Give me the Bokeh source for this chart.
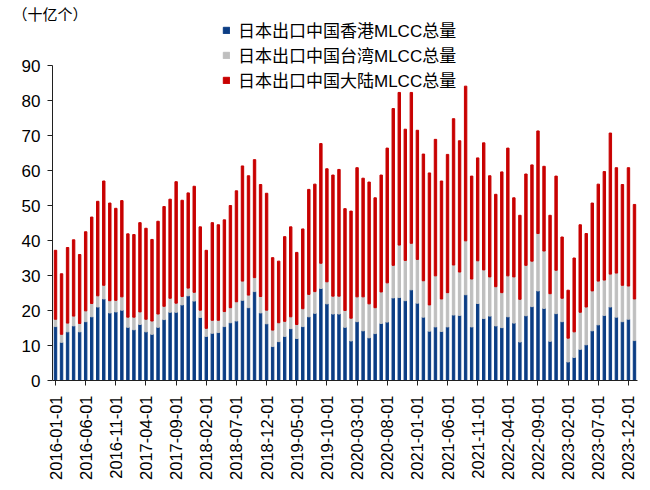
import math
import pandas as pd
from bokeh.plotting import figure
from bokeh.models import ColumnDataSource, Range1d, FixedTicker, Legend, LegendItem
from bokeh.embed import file_html
from bokeh.resources import INLINE

# ---- data (十亿个) ----
months = pd.date_range("2016-01-01", periods=97, freq="MS").strftime("%Y-%m-%d").tolist()

hk = [15.4, 10.9, 13.9, 15.6, 13.9, 16.8, 18.2, 21.0, 23.3, 19.3, 19.6, 20.1,
      15.2, 14.5, 16.0, 13.9, 13.2, 15.2, 17.4, 19.5, 19.5, 21.6, 24.2, 22.7,
      18.0, 12.6, 13.5, 13.7, 15.4, 16.5, 17.0, 22.9, 20.8, 25.4, 19.3, 16.2,
      9.7, 11.1, 12.6, 14.8, 12.0, 15.4, 18.2, 19.2, 26.3, 21.9, 19.0, 19.0,
      15.2, 11.3, 16.8, 14.2, 12.2, 13.4, 16.3, 16.7, 23.6, 23.7, 22.8, 25.9,
      22.1, 18.1, 14.1, 15.3, 14.0, 15.3, 18.7, 18.6, 24.5, 15.3, 22.0, 17.7,
      18.4, 15.6, 15.1, 18.2, 16.4, 11.0, 18.5, 21.1, 25.6, 20.6, 11.2, 19.1,
      16.8, 5.3, 6.6, 8.9, 10.2, 14.2, 15.9, 18.6, 21.0, 18.1, 16.8, 17.5,
      11.4]

tw = [2.1, 2.3, 2.5, 2.8, 2.4, 3.1, 3.8, 3.2, 3.9, 3.5, 3.3, 3.8,
      2.9, 3.6, 3.6, 3.6, 3.8, 3.8, 3.8, 4.0, 2.6, 2.4, 2.2, 2.5,
      2.1, 2.3, 3.7, 3.5, 4.3, 4.3, 5.5, 5.5, 3.6, 4.0, 4.7, 3.9,
      4.7, 5.4, 4.3, 3.4, 4.0, 5.1, 6.4, 6.2, 7.2, 6.3, 5.1, 5.1,
      4.8, 6.5, 7.1, 9.7, 9.7, 7.4, 9.0, 11.2, 9.3, 15.0, 11.5, 13.3,
      12.5, 10.4, 7.5, 14.6, 9.3, 9.8, 14.3, 12.4, 15.4, 13.7, 12.2, 13.9,
      11.2, 11.2, 10.0, 11.7, 13.2, 12.2, 14.4, 13.0, 16.4, 16.4, 13.6, 12.4,
      6.7, 6.8, 7.3, 10.6, 10.8, 11.4, 12.5, 10.1, 9.4, 12.6, 10.4, 9.5,
      11.9]

cn = [19.7, 17.3, 21.6, 21.8, 19.7, 22.6, 24.7, 27.0, 29.8, 27.9, 26.3, 27.5,
      23.8, 23.6, 25.5, 26.0, 23.3, 26.5, 28.5, 28.3, 34.7, 27.5, 27.2, 30.3,
      23.8, 22.3, 27.9, 27.3, 26.2, 29.2, 31.7, 32.9, 34.1, 33.7, 32.0, 33.4,
      20.7, 17.6, 24.2, 25.7, 20.6, 22.8, 30.0, 30.7, 34.2, 32.3, 34.6, 36.2,
      29.1, 30.6, 36.9, 33.9, 34.8, 31.4, 33.4, 38.5, 44.8, 43.6, 37.5, 43.1,
      36.9, 36.2, 37.7, 39.0, 33.7, 39.5, 41.8, 37.5, 44.2, 29.4, 29.4, 36.3,
      28.9, 26.4, 34.5, 36.5, 22.6, 24.0, 26.1, 27.5, 29.3, 24.2, 22.4, 26.9,
      17.5, 13.7, 21.1, 25.0, 21.0, 25.1, 27.7, 31.0, 40.3, 30.1, 28.8, 33.8,
      27.0]

tick_labels = ["2016-01-01", "2016-06-01", "2016-11-01", "2017-04-01", "2017-09-01",
               "2018-02-01", "2018-07-01", "2018-12-01", "2019-05-01", "2019-10-01",
               "2020-03-01", "2020-08-01", "2021-01-01", "2021-06-01", "2021-11-01",
               "2022-04-01", "2022-09-01", "2023-02-01", "2023-07-01", "2023-12-01"]
y_ticks = [0, 10, 20, 30, 40, 50, 60, 70, 80, 90]
y_max = 90

series_names = ["日本出口中国香港MLCC总量", "日本出口中国台湾MLCC总量", "日本出口中国大陆MLCC总量"]
unit_text = "（十亿个）"
colors = ["#0B3D84", "#BFBFBF", "#C80000"]

# ---- layout constants (pixels) ----
W, H = 645, 488
B_LEFT, B_RIGHT, B_TOP, B_BOTTOM = 52, 8, 22, 108
PX_PER_UNIT = 3.5
frame_h = H - B_TOP - B_BOTTOM
y_top = frame_h / PX_PER_UNIT   # frame extends above 90 to host legend/title

LAT = "Liberation Sans"
MIX = "Liberation Sans, Noto Sans CJK SC"

x_idx = list(range(len(months)))
src = ColumnDataSource(dict(x=x_idx, month=months, hk=hk, tw=tw, cn=cn))

p = figure(width=W, height=H, output_backend="svg", toolbar_location=None,
           x_range=Range1d(-0.5, len(months) - 0.5), y_range=Range1d(0, y_top),
           min_border_left=B_LEFT, min_border_right=B_RIGHT,
           min_border_top=B_TOP, min_border_bottom=B_BOTTOM)
p.outline_line_color = None
p.xgrid.visible = False
p.ygrid.visible = False
p.background_fill_color = "white"

p.title.text = unit_text
p.title.text_font = MIX
p.title.text_font_size = "15px"
p.title.text_font_style = "normal"
p.title.text_color = "#000000"
p.title.align = "left"
p.title.offset = -40
p.title.standoff = 0

rs = p.vbar_stack(["hk", "tw", "cn"], x="x", width=0.4, color=colors, source=src)

# axes
tick_pos = [months.index(t) for t in tick_labels]
p.xaxis.ticker = FixedTicker(ticks=tick_pos)
p.xaxis.major_label_overrides = {i: t for i, t in zip(tick_pos, tick_labels)}
p.xaxis.major_label_orientation = math.pi / 2
p.xaxis.major_label_text_font = LAT
p.xaxis.major_label_text_font_size = "16.5px"
p.xaxis.major_label_text_color = "#000000"
p.xaxis.major_label_standoff = 10
p.xaxis.major_tick_out = 5
p.xaxis.major_tick_in = 0
p.xaxis.minor_tick_out = 0
p.xaxis.minor_tick_in = 0
p.xaxis.axis_line_color = "#202020"
p.xaxis.major_tick_line_color = "#202020"

p.yaxis.ticker = FixedTicker(ticks=y_ticks)
p.yaxis.bounds = (0, y_max)
p.yaxis.major_label_text_font = LAT
p.yaxis.major_label_text_font_size = "17px"
p.yaxis.major_label_text_color = "#000000"
p.yaxis.major_label_standoff = 7
p.yaxis.major_tick_out = 5
p.yaxis.major_tick_in = 0
p.yaxis.minor_tick_out = 0
p.yaxis.minor_tick_in = 0
p.yaxis.axis_line_color = "#202020"
p.yaxis.major_tick_line_color = "#202020"

# legend
items = [LegendItem(label=n, renderers=[r]) for n, r in zip(series_names, rs)]
legend = Legend(items=items, location=(170, 288), orientation="vertical",
                glyph_width=8, glyph_height=8, label_standoff=8, spacing=-4,
                padding=0, margin=0, border_line_color=None, background_fill_alpha=0,
                label_text_font=MIX, label_text_font_size="17px", label_height=22,
                label_text_color="#000000")
p.add_layout(legend, "center")

open("out.html", "w").write(file_html(p, INLINE))
